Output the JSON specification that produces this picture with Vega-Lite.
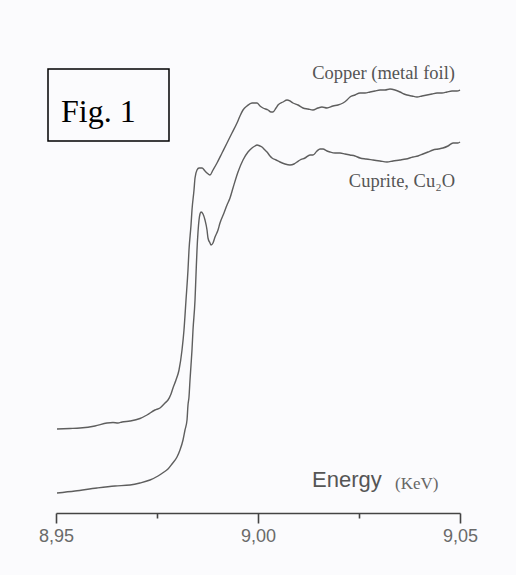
{
  "$schema": "https://vega.github.io/schema/vega-lite/v6.json",
  "autosize": {"type": "none"},
  "width": 404,
  "height": 513,
  "padding": {"left": 56, "right": 56, "top": 0, "bottom": 62},
  "background": "#fbfbfd",
  "config": {"view": {"stroke": null}},
  "datasets": {
    "spectra": [
      {"series": "Copper (metal foil)", "energy": 8.95025, "mu": 84},
      {"series": "Copper (metal foil)", "energy": 8.95347, "mu": 84.5},
      {"series": "Copper (metal foil)", "energy": 8.95594, "mu": 85},
      {"series": "Copper (metal foil)", "energy": 8.95965, "mu": 87},
      {"series": "Copper (metal foil)", "energy": 8.96262, "mu": 90},
      {"series": "Copper (metal foil)", "energy": 8.96411, "mu": 90.5},
      {"series": "Copper (metal foil)", "energy": 8.96535, "mu": 90},
      {"series": "Copper (metal foil)", "energy": 8.96634, "mu": 91},
      {"series": "Copper (metal foil)", "energy": 8.96832, "mu": 92},
      {"series": "Copper (metal foil)", "energy": 8.97079, "mu": 94.5},
      {"series": "Copper (metal foil)", "energy": 8.97252, "mu": 98},
      {"series": "Copper (metal foil)", "energy": 8.9745, "mu": 103},
      {"series": "Copper (metal foil)", "energy": 8.97574, "mu": 105},
      {"series": "Copper (metal foil)", "energy": 8.97698, "mu": 110},
      {"series": "Copper (metal foil)", "energy": 8.97772, "mu": 113},
      {"series": "Copper (metal foil)", "energy": 8.97847, "mu": 119},
      {"series": "Copper (metal foil)", "energy": 8.97896, "mu": 125},
      {"series": "Copper (metal foil)", "energy": 8.9797, "mu": 133},
      {"series": "Copper (metal foil)", "energy": 8.98045, "mu": 143},
      {"series": "Copper (metal foil)", "energy": 8.98119, "mu": 163},
      {"series": "Copper (metal foil)", "energy": 8.98168, "mu": 183},
      {"series": "Copper (metal foil)", "energy": 8.98218, "mu": 213},
      {"series": "Copper (metal foil)", "energy": 8.98267, "mu": 243},
      {"series": "Copper (metal foil)", "energy": 8.98292, "mu": 263},
      {"series": "Copper (metal foil)", "energy": 8.98342, "mu": 288},
      {"series": "Copper (metal foil)", "energy": 8.98366, "mu": 303},
      {"series": "Copper (metal foil)", "energy": 8.98416, "mu": 323},
      {"series": "Copper (metal foil)", "energy": 8.98441, "mu": 335},
      {"series": "Copper (metal foil)", "energy": 8.9849, "mu": 343},
      {"series": "Copper (metal foil)", "energy": 8.9854, "mu": 345},
      {"series": "Copper (metal foil)", "energy": 8.98614, "mu": 345},
      {"series": "Copper (metal foil)", "energy": 8.98688, "mu": 342},
      {"series": "Copper (metal foil)", "energy": 8.98738, "mu": 340},
      {"series": "Copper (metal foil)", "energy": 8.98812, "mu": 338},
      {"series": "Copper (metal foil)", "energy": 8.98886, "mu": 343},
      {"series": "Copper (metal foil)", "energy": 8.98985, "mu": 350},
      {"series": "Copper (metal foil)", "energy": 8.99109, "mu": 360},
      {"series": "Copper (metal foil)", "energy": 8.99233, "mu": 370},
      {"series": "Copper (metal foil)", "energy": 8.99356, "mu": 380},
      {"series": "Copper (metal foil)", "energy": 8.9948, "mu": 390},
      {"series": "Copper (metal foil)", "energy": 8.99554, "mu": 397},
      {"series": "Copper (metal foil)", "energy": 8.99629, "mu": 403},
      {"series": "Copper (metal foil)", "energy": 8.99728, "mu": 407},
      {"series": "Copper (metal foil)", "energy": 8.99851, "mu": 410},
      {"series": "Copper (metal foil)", "energy": 8.99975, "mu": 410},
      {"series": "Copper (metal foil)", "energy": 9.0005, "mu": 407},
      {"series": "Copper (metal foil)", "energy": 9.00124, "mu": 405},
      {"series": "Copper (metal foil)", "energy": 9.00248, "mu": 403},
      {"series": "Copper (metal foil)", "energy": 9.00322, "mu": 401},
      {"series": "Copper (metal foil)", "energy": 9.00371, "mu": 401},
      {"series": "Copper (metal foil)", "energy": 9.00446, "mu": 405},
      {"series": "Copper (metal foil)", "energy": 9.00495, "mu": 408},
      {"series": "Copper (metal foil)", "energy": 9.00619, "mu": 411},
      {"series": "Copper (metal foil)", "energy": 9.00718, "mu": 413},
      {"series": "Copper (metal foil)", "energy": 9.00792, "mu": 412},
      {"series": "Copper (metal foil)", "energy": 9.00866, "mu": 410},
      {"series": "Copper (metal foil)", "energy": 9.0099, "mu": 408},
      {"series": "Copper (metal foil)", "energy": 9.01114, "mu": 405},
      {"series": "Copper (metal foil)", "energy": 9.01238, "mu": 404},
      {"series": "Copper (metal foil)", "energy": 9.01361, "mu": 403},
      {"series": "Copper (metal foil)", "energy": 9.01485, "mu": 405},
      {"series": "Copper (metal foil)", "energy": 9.01584, "mu": 406},
      {"series": "Copper (metal foil)", "energy": 9.01708, "mu": 405},
      {"series": "Copper (metal foil)", "energy": 9.01856, "mu": 407},
      {"series": "Copper (metal foil)", "energy": 9.0198, "mu": 408},
      {"series": "Copper (metal foil)", "energy": 9.02104, "mu": 410},
      {"series": "Copper (metal foil)", "energy": 9.02203, "mu": 413},
      {"series": "Copper (metal foil)", "energy": 9.02277, "mu": 416},
      {"series": "Copper (metal foil)", "energy": 9.02401, "mu": 418},
      {"series": "Copper (metal foil)", "energy": 9.02525, "mu": 420},
      {"series": "Copper (metal foil)", "energy": 9.02649, "mu": 420},
      {"series": "Copper (metal foil)", "energy": 9.02772, "mu": 421},
      {"series": "Copper (metal foil)", "energy": 9.02896, "mu": 422},
      {"series": "Copper (metal foil)", "energy": 9.0302, "mu": 423},
      {"series": "Copper (metal foil)", "energy": 9.03144, "mu": 423},
      {"series": "Copper (metal foil)", "energy": 9.03267, "mu": 424},
      {"series": "Copper (metal foil)", "energy": 9.03391, "mu": 423},
      {"series": "Copper (metal foil)", "energy": 9.03515, "mu": 421},
      {"series": "Copper (metal foil)", "energy": 9.03614, "mu": 419},
      {"series": "Copper (metal foil)", "energy": 9.03688, "mu": 418},
      {"series": "Copper (metal foil)", "energy": 9.03812, "mu": 417},
      {"series": "Copper (metal foil)", "energy": 9.03936, "mu": 416},
      {"series": "Copper (metal foil)", "energy": 9.04059, "mu": 417},
      {"series": "Copper (metal foil)", "energy": 9.04183, "mu": 418},
      {"series": "Copper (metal foil)", "energy": 9.04307, "mu": 419},
      {"series": "Copper (metal foil)", "energy": 9.04431, "mu": 420},
      {"series": "Copper (metal foil)", "energy": 9.04554, "mu": 420},
      {"series": "Copper (metal foil)", "energy": 9.04678, "mu": 421},
      {"series": "Copper (metal foil)", "energy": 9.04802, "mu": 422},
      {"series": "Copper (metal foil)", "energy": 9.04926, "mu": 422},
      {"series": "Copper (metal foil)", "energy": 9.05, "mu": 423},
      {"series": "Cuprite, Cu2O", "energy": 8.95025, "mu": 20},
      {"series": "Cuprite, Cu2O", "energy": 8.9547, "mu": 22},
      {"series": "Cuprite, Cu2O", "energy": 8.96015, "mu": 25},
      {"series": "Cuprite, Cu2O", "energy": 8.9646, "mu": 27},
      {"series": "Cuprite, Cu2O", "energy": 8.96832, "mu": 28},
      {"series": "Cuprite, Cu2O", "energy": 8.97079, "mu": 30},
      {"series": "Cuprite, Cu2O", "energy": 8.97327, "mu": 33},
      {"series": "Cuprite, Cu2O", "energy": 8.97525, "mu": 37},
      {"series": "Cuprite, Cu2O", "energy": 8.97673, "mu": 41},
      {"series": "Cuprite, Cu2O", "energy": 8.97772, "mu": 44},
      {"series": "Cuprite, Cu2O", "energy": 8.97871, "mu": 49},
      {"series": "Cuprite, Cu2O", "energy": 8.97995, "mu": 56},
      {"series": "Cuprite, Cu2O", "energy": 8.98069, "mu": 63},
      {"series": "Cuprite, Cu2O", "energy": 8.98144, "mu": 73},
      {"series": "Cuprite, Cu2O", "energy": 8.98193, "mu": 83},
      {"series": "Cuprite, Cu2O", "energy": 8.98243, "mu": 93},
      {"series": "Cuprite, Cu2O", "energy": 8.98267, "mu": 108},
      {"series": "Cuprite, Cu2O", "energy": 8.98292, "mu": 116},
      {"series": "Cuprite, Cu2O", "energy": 8.98317, "mu": 133},
      {"series": "Cuprite, Cu2O", "energy": 8.98342, "mu": 148},
      {"series": "Cuprite, Cu2O", "energy": 8.98366, "mu": 163},
      {"series": "Cuprite, Cu2O", "energy": 8.98391, "mu": 183},
      {"series": "Cuprite, Cu2O", "energy": 8.98441, "mu": 213},
      {"series": "Cuprite, Cu2O", "energy": 8.98465, "mu": 238},
      {"series": "Cuprite, Cu2O", "energy": 8.9849, "mu": 263},
      {"series": "Cuprite, Cu2O", "energy": 8.98515, "mu": 281},
      {"series": "Cuprite, Cu2O", "energy": 8.9854, "mu": 293},
      {"series": "Cuprite, Cu2O", "energy": 8.98564, "mu": 299},
      {"series": "Cuprite, Cu2O", "energy": 8.98589, "mu": 301},
      {"series": "Cuprite, Cu2O", "energy": 8.98639, "mu": 299},
      {"series": "Cuprite, Cu2O", "energy": 8.98688, "mu": 293},
      {"series": "Cuprite, Cu2O", "energy": 8.98738, "mu": 283},
      {"series": "Cuprite, Cu2O", "energy": 8.98762, "mu": 275},
      {"series": "Cuprite, Cu2O", "energy": 8.98812, "mu": 270},
      {"series": "Cuprite, Cu2O", "energy": 8.98837, "mu": 268},
      {"series": "Cuprite, Cu2O", "energy": 8.98886, "mu": 270},
      {"series": "Cuprite, Cu2O", "energy": 8.98936, "mu": 276},
      {"series": "Cuprite, Cu2O", "energy": 8.9901, "mu": 283},
      {"series": "Cuprite, Cu2O", "energy": 8.99059, "mu": 290},
      {"series": "Cuprite, Cu2O", "energy": 8.99158, "mu": 300},
      {"series": "Cuprite, Cu2O", "energy": 8.99233, "mu": 308},
      {"series": "Cuprite, Cu2O", "energy": 8.99307, "mu": 315},
      {"series": "Cuprite, Cu2O", "energy": 8.99381, "mu": 325},
      {"series": "Cuprite, Cu2O", "energy": 8.99505, "mu": 341},
      {"series": "Cuprite, Cu2O", "energy": 8.99629, "mu": 353},
      {"series": "Cuprite, Cu2O", "energy": 8.99752, "mu": 361},
      {"series": "Cuprite, Cu2O", "energy": 8.99851, "mu": 365},
      {"series": "Cuprite, Cu2O", "energy": 8.99926, "mu": 367},
      {"series": "Cuprite, Cu2O", "energy": 8.99975, "mu": 368},
      {"series": "Cuprite, Cu2O", "energy": 9.0005, "mu": 367},
      {"series": "Cuprite, Cu2O", "energy": 9.00099, "mu": 366},
      {"series": "Cuprite, Cu2O", "energy": 9.00173, "mu": 363},
      {"series": "Cuprite, Cu2O", "energy": 9.00223, "mu": 361},
      {"series": "Cuprite, Cu2O", "energy": 9.00297, "mu": 357},
      {"series": "Cuprite, Cu2O", "energy": 9.00347, "mu": 355},
      {"series": "Cuprite, Cu2O", "energy": 9.00446, "mu": 353},
      {"series": "Cuprite, Cu2O", "energy": 9.00545, "mu": 351},
      {"series": "Cuprite, Cu2O", "energy": 9.00668, "mu": 349},
      {"series": "Cuprite, Cu2O", "energy": 9.00792, "mu": 348},
      {"series": "Cuprite, Cu2O", "energy": 9.00891, "mu": 349},
      {"series": "Cuprite, Cu2O", "energy": 9.00965, "mu": 351},
      {"series": "Cuprite, Cu2O", "energy": 9.0104, "mu": 353},
      {"series": "Cuprite, Cu2O", "energy": 9.01163, "mu": 355},
      {"series": "Cuprite, Cu2O", "energy": 9.01287, "mu": 358},
      {"series": "Cuprite, Cu2O", "energy": 9.01361, "mu": 358},
      {"series": "Cuprite, Cu2O", "energy": 9.0146, "mu": 362},
      {"series": "Cuprite, Cu2O", "energy": 9.01535, "mu": 364},
      {"series": "Cuprite, Cu2O", "energy": 9.01609, "mu": 364},
      {"series": "Cuprite, Cu2O", "energy": 9.01708, "mu": 362},
      {"series": "Cuprite, Cu2O", "energy": 9.01782, "mu": 361},
      {"series": "Cuprite, Cu2O", "energy": 9.01906, "mu": 360},
      {"series": "Cuprite, Cu2O", "energy": 9.0203, "mu": 360},
      {"series": "Cuprite, Cu2O", "energy": 9.02153, "mu": 359},
      {"series": "Cuprite, Cu2O", "energy": 9.02277, "mu": 358},
      {"series": "Cuprite, Cu2O", "energy": 9.02401, "mu": 357},
      {"series": "Cuprite, Cu2O", "energy": 9.02525, "mu": 355},
      {"series": "Cuprite, Cu2O", "energy": 9.02673, "mu": 354},
      {"series": "Cuprite, Cu2O", "energy": 9.02847, "mu": 353},
      {"series": "Cuprite, Cu2O", "energy": 9.0302, "mu": 352},
      {"series": "Cuprite, Cu2O", "energy": 9.03193, "mu": 351},
      {"series": "Cuprite, Cu2O", "energy": 9.03342, "mu": 352},
      {"series": "Cuprite, Cu2O", "energy": 9.03515, "mu": 353},
      {"series": "Cuprite, Cu2O", "energy": 9.03663, "mu": 354},
      {"series": "Cuprite, Cu2O", "energy": 9.03837, "mu": 356},
      {"series": "Cuprite, Cu2O", "energy": 9.0396, "mu": 357},
      {"series": "Cuprite, Cu2O", "energy": 9.04084, "mu": 359},
      {"series": "Cuprite, Cu2O", "energy": 9.04208, "mu": 361},
      {"series": "Cuprite, Cu2O", "energy": 9.04332, "mu": 363},
      {"series": "Cuprite, Cu2O", "energy": 9.04455, "mu": 364},
      {"series": "Cuprite, Cu2O", "energy": 9.04579, "mu": 365},
      {"series": "Cuprite, Cu2O", "energy": 9.04703, "mu": 367},
      {"series": "Cuprite, Cu2O", "energy": 9.04827, "mu": 370},
      {"series": "Cuprite, Cu2O", "energy": 9.0495, "mu": 370},
      {"series": "Cuprite, Cu2O", "energy": 9.05, "mu": 371}
    ]
  },
  "layer": [
    {
      "data": {"name": "spectra"},
      "mark": {"type": "line", "color": "#5e5e5e", "strokeWidth": 1.4, "interpolate": "monotone"},
      "encoding": {
        "x": {
          "field": "energy", "type": "quantitative",
          "scale": {"domain": [8.95, 9.05], "nice": false, "zero": false},
          "axis": {
            "values": [8.95, 8.975, 9.0, 9.025, 9.05],
            "title": null,
            "grid": false,
            "domainColor": "#444",
            "domainWidth": 1.6,
            "tickColor": "#444",
            "tickWidth": 1.6,
            "tickSize": {"condition": {"test": "datum.value == 8.975 || datum.value == 9.025", "value": 5}, "value": 10},
            "labelExpr": "datum.value == 8.975 || datum.value == 9.025 ? '' : replace(format(datum.value, '.2f'), '.', ',')",
            "labelFont": "Liberation Sans",
            "labelFontSize": 18,
            "labelColor": "#6a6a6a",
            "labelPadding": 4,
            "labelFlush": false
          }
        },
        "y": {
          "field": "mu", "type": "quantitative",
          "scale": {"domain": [0, 513], "nice": false, "zero": false},
          "axis": null
        },
        "detail": {"field": "series"}
      }
    },
    {
      "data": {"values": [{"label": "Fig. 1"}]},
      "mark": {"type": "rect", "fill": null, "stroke": "#000", "strokeWidth": 1.5},
      "encoding": {
        "x": {"datum": 8.94802, "type": "quantitative"},
        "x2": {"datum": 8.97797},
        "y": {"datum": 444, "type": "quantitative"},
        "y2": {"datum": 372}
      }
    },
    {
      "data": {"values": [{"label": "Fig. 1"}]},
      "mark": {"type": "text", "font": "Liberation Serif", "fontSize": 32, "color": "#000", "align": "left", "baseline": "alphabetic"},
      "encoding": {
        "text": {"field": "label"},
        "x": {"datum": 8.95124, "type": "quantitative"},
        "y": {"datum": 391, "type": "quantitative"}
      }
    },
    {
      "data": {"values": [{"label": "Copper (metal foil)"}]},
      "mark": {"type": "text", "font": "Liberation Serif", "fontSize": 18.5, "color": "#555", "align": "right", "baseline": "alphabetic"},
      "encoding": {
        "text": {"field": "label"},
        "x": {"datum": 9.04876, "type": "quantitative"},
        "y": {"datum": 434, "type": "quantitative"}
      }
    },
    {
      "data": {"values": [{"label": "Cuprite, Cu₂O"}]},
      "mark": {"type": "text", "font": "Liberation Serif", "fontSize": 18.5, "color": "#555", "align": "right", "baseline": "alphabetic"},
      "encoding": {
        "text": {"field": "label"},
        "x": {"datum": 9.04876, "type": "quantitative"},
        "y": {"datum": 326, "type": "quantitative"}
      }
    },
    {
      "data": {"values": [{"label": "Energy"}]},
      "mark": {"type": "text", "font": "Liberation Sans", "fontSize": 22, "color": "#555", "align": "left", "baseline": "alphabetic"},
      "encoding": {
        "text": {"field": "label"},
        "x": {"datum": 9.01337, "type": "quantitative"},
        "y": {"datum": 26, "type": "quantitative"}
      }
    },
    {
      "data": {"values": [{"label": "(KeV)"}]},
      "mark": {"type": "text", "font": "Liberation Serif", "fontSize": 17, "color": "#666", "align": "left", "baseline": "alphabetic"},
      "encoding": {
        "text": {"field": "label"},
        "x": {"datum": 9.03391, "type": "quantitative"},
        "y": {"datum": 24, "type": "quantitative"}
      }
    }
  ]
}
